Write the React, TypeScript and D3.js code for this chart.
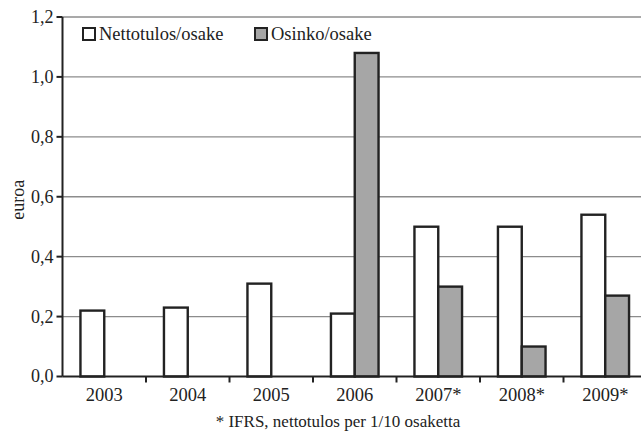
import React from "react";
import * as d3 from "d3";

const years = ["2003", "2004", "2005", "2006", "2007*", "2008*", "2009*"];
const nettotulos = [0.22, 0.23, 0.31, 0.21, 0.5, 0.5, 0.54];
const osinko = [null, null, null, 1.08, 0.3, 0.1, 0.27];
const seriesNames = ["Nettotulos/osake", "Osinko/osake"];
const seriesFills = ["#ffffff", "#a6a6a6"];
const yTicks = [0, 0.2, 0.4, 0.6, 0.8, 1.0, 1.2];

const W = 641;
const H = 433;
const left = 62.5;
const right = 647;
const top = 17;
const bottom = 376.5;
const font = "Liberation Serif";
const txt = { fontFamily: font };

export default function App() {
  const x = d3.scaleBand<string>().domain(years).range([left, right]).padding(0);
  const y = d3.scaleLinear().domain([0, 1.2]).range([bottom, top]);
  const bw = x.bandwidth();
  const inner = d3
    .scaleBand<number>()
    .domain([0, 1])
    .range([bw * 0.215, bw * 0.785])
    .padding(0);
  const fmt = (v: number) => v.toFixed(1).replace(".", ",");
  const series = [nettotulos, osinko];

  return (
    <svg
      width={W}
      height={H}
      style={{ position: "absolute", left: 0, top: 0, background: "#fff" }}
    >
      <rect x={0} y={0} width={W} height={H} fill="#fff" />
      {/* gridlines */}
      {yTicks.slice(1).map((t) => (
        <line
          key={"g" + t}
          x1={left}
          x2={right}
          y1={y(t)}
          y2={y(t)}
          stroke="#8c8c8c"
          strokeWidth={1.3}
        />
      ))}
      {/* bars */}
      {years.map((yr, i) =>
        series.map((s, k) => {
          const v = s[i];
          if (v == null) return null;
          const x0 = (x(yr) as number) + (inner(k) as number);
          return (
            <rect
              key={yr + k}
              x={x0}
              y={y(v)}
              width={inner.bandwidth()}
              height={y(0) - y(v)}
              fill={seriesFills[k]}
              stroke="#222"
              strokeWidth={2.4}
            />
          );
        })
      )}
      {/* y axis */}
      <line x1={left} x2={left} y1={top} y2={bottom} stroke="#222" strokeWidth={2} />
      {yTicks.map((t) => (
        <g key={"t" + t}>
          <line x1={left - 6} x2={left} y1={y(t)} y2={y(t)} stroke="#222" strokeWidth={2} />
          <text
            x={left - 9}
            y={y(t)}
            dy="0.33em"
            textAnchor="end"
            fontSize={18}
            fill="#222"
            style={txt}
          >
            {fmt(t)}
          </text>
        </g>
      ))}
      <text
        transform={`translate(18,${(top + bottom) / 2 + 3}) rotate(-90)`}
        textAnchor="middle"
        dy="0.33em"
        fontSize={18}
        fill="#222"
        style={txt}
      >
        euroa
      </text>
      {/* x axis */}
      <line x1={left} x2={right} y1={bottom} y2={bottom} stroke="#222" strokeWidth={2} />
      {years.map((yr, i) => (
        <g key={"x" + yr}>
          {i > 0 && (
            <line
              x1={x(yr) as number}
              x2={x(yr) as number}
              y1={bottom}
              y2={bottom + 6}
              stroke="#222"
              strokeWidth={2}
            />
          )}
          <text
            x={(x(yr) as number) + bw / 2}
            y={400.5}
            textAnchor="middle"
            fontSize={18.5}
            fill="#222"
            style={txt}
          >
            {yr}
          </text>
        </g>
      ))}
      <text x={338} y={427} textAnchor="middle" fontSize={17} fill="#222" style={txt}>
        * IFRS, nettotulos per 1/10 osaketta
      </text>
      {/* legend */}
      {seriesNames.map((n, k) => {
        const lx = k === 0 ? 83 : 255;
        return (
          <g key={n}>
            <rect
              x={lx}
              y={28}
              width={12}
              height={12}
              fill={seriesFills[k]}
              stroke="#222"
              strokeWidth={2}
            />
            <text x={lx + 16} y={40} fontSize={18.5} fill="#222" style={txt}>
              {n}
            </text>
          </g>
        );
      })}
    </svg>
  );
}
